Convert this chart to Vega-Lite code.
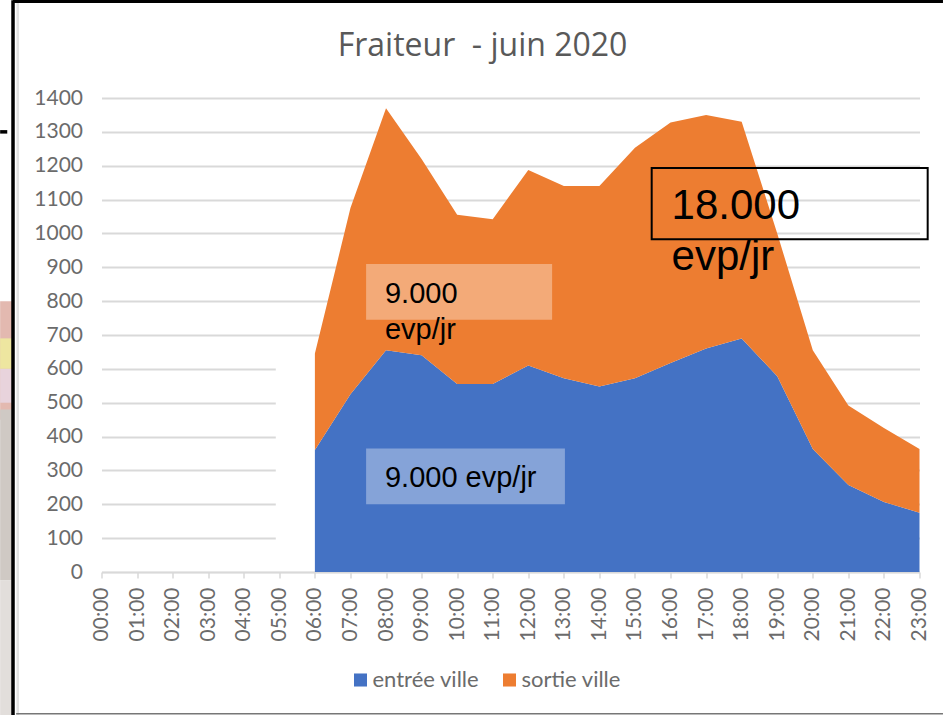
{
"$schema":"https://vega.github.io/schema/vega-lite/v6.json",
"width":818,"height":474,
"autosize":{"type":"none"},
"padding":{"left":101.5,"top":98,"right":23.5,"bottom":143},
"background":"white",
"title":{"text":"Fraiteur\u00a0 - juin 2020","font":"Open Sans","fontSize":32,"fontWeight":"normal","color":"#595959","anchor":"middle","dx":-28,"offset":-65},
"config":{"view":{"stroke":null}},
"layer":[
{"data":{"values":[{"x0":4.9,"x1":6.04,"y0":4,"y1":650}]},
 "mark":{"type":"rect","color":"white"},
 "encoding":{"x":{"field":"x0","type":"quantitative"},"x2":{"field":"x1"},"y":{"field":"y0","type":"quantitative"},"y2":{"field":"y1"}}},
{"data":{"values":[
 {"h":6,"s":"entrée ville","o":1,"v":360},{"h":7,"s":"entrée ville","o":1,"v":525},{"h":8,"s":"entrée ville","o":1,"v":655},{"h":9,"s":"entrée ville","o":1,"v":640},{"h":10,"s":"entrée ville","o":1,"v":555},{"h":11,"s":"entrée ville","o":1,"v":555},{"h":12,"s":"entrée ville","o":1,"v":610},{"h":13,"s":"entrée ville","o":1,"v":572},{"h":14,"s":"entrée ville","o":1,"v":548},{"h":15,"s":"entrée ville","o":1,"v":572},{"h":16,"s":"entrée ville","o":1,"v":617},{"h":17,"s":"entrée ville","o":1,"v":660},{"h":18,"s":"entrée ville","o":1,"v":690},{"h":19,"s":"entrée ville","o":1,"v":578},{"h":20,"s":"entrée ville","o":1,"v":363},{"h":21,"s":"entrée ville","o":1,"v":257},{"h":22,"s":"entrée ville","o":1,"v":207},{"h":23,"s":"entrée ville","o":1,"v":175},
 {"h":6,"s":"sortie ville","o":2,"v":285},{"h":7,"s":"sortie ville","o":2,"v":550},{"h":8,"s":"sortie ville","o":2,"v":715},{"h":9,"s":"sortie ville","o":2,"v":580},{"h":10,"s":"sortie ville","o":2,"v":500},{"h":11,"s":"sortie ville","o":2,"v":487},{"h":12,"s":"sortie ville","o":2,"v":577},{"h":13,"s":"sortie ville","o":2,"v":568},{"h":14,"s":"sortie ville","o":2,"v":592},{"h":15,"s":"sortie ville","o":2,"v":681},{"h":16,"s":"sortie ville","o":2,"v":711},{"h":17,"s":"sortie ville","o":2,"v":690},{"h":18,"s":"sortie ville","o":2,"v":640},{"h":19,"s":"sortie ville","o":2,"v":422},{"h":20,"s":"sortie ville","o":2,"v":292},{"h":21,"s":"sortie ville","o":2,"v":235},{"h":22,"s":"sortie ville","o":2,"v":218},{"h":23,"s":"sortie ville","o":2,"v":188}
 ]},
 "mark":{"type":"area","clip":false},
 "encoding":{
  "x":{"field":"h","type":"quantitative","scale":{"domain":[0,23],"nice":false,"zero":false},
   "axis":{"tickCount":23,"labelExpr":"(datum.value<10?'0':'')+datum.value+':00'","labelAngle":-90,"labelAlign":"right","labelBaseline":"middle","labelFont":"Lato","labelFontSize":21,"labelColor":"#6b6b6b","labelPadding":9,"labelOverlap":false,"labelBound":false,"labelFlush":false,"title":null,"grid":false,"domainColor":"#d9d9d9","domainWidth":1.5,"tickColor":"#d9d9d9","tickSize":6,"tickWidth":1.5}},
  "y":{"aggregate":"sum","field":"v","type":"quantitative","stack":"zero","scale":{"domain":[0,1400],"nice":false},
   "axis":{"tickCount":14,"labelExpr":"''+datum.value","labelFont":"Lato","labelFontSize":21,"labelColor":"#6b6b6b","labelPadding":19,"title":null,"grid":true,"gridColor":"#d9d9d9","gridWidth":2,"domain":false,"ticks":false,"labelOverlap":false}},
  "color":{"field":"s","type":"nominal","scale":{"domain":["entrée ville","sortie ville"],"range":["#4472c4","#ed7d31"]},
   "legend":{"title":null,"orient":"none","legendX":248,"legendY":571,"direction":"horizontal","symbolType":"square","symbolSize":170,"symbolStrokeWidth":0,"symbolOpacity":1,"labelFont":"Lato","labelFontSize":22,"labelColor":"#6b6b6b","columnPadding":19,"labelOffset":1}},
  "order":{"field":"o","type":"quantitative","sort":"ascending"}
 }},
{"data":{"values":[
 {"x0":-2.85,"x1":-2.5,"y0":450,"y1":800,"c":"#e3b9b0"},
 {"x0":-2.85,"x1":-2.5,"y0":600,"y1":690,"c":"#eee6a0"},
 {"x0":-2.85,"x1":-2.5,"y0":500,"y1":600,"c":"#e8d3dc"},
 {"x0":-2.85,"x1":-2.5,"y0":-25,"y1":480,"c":"#cfc9c4"},
 {"x0":-2.85,"x1":-2.5,"y0":-423,"y1":-25,"c":"#e2dedb"}
 ]},
 "mark":{"type":"rect","clip":false},
 "encoding":{"x":{"field":"x0","type":"quantitative"},"x2":{"field":"x1"},"y":{"field":"y0","type":"quantitative"},"y2":{"field":"y1"},"fill":{"field":"c","type":"nominal","scale":null,"legend":null}}},
{"data":{"values":[{"x0":-2.39,"x1":-2.32,"y0":-423,"y1":1689}]},
 "mark":{"type":"rect","color":"#e2e2e2","clip":false},
 "encoding":{"x":{"field":"x0","type":"quantitative"},"x2":{"field":"x1"},"y":{"field":"y0","type":"quantitative"},"y2":{"field":"y1"}}},
{"data":{"values":[{"x0":7.44,"x1":12.67,"y0":745,"y1":910},{"x0":7.44,"x1":13.03,"y0":200,"y1":365}]},
 "mark":{"type":"rect","color":"white","opacity":0.35},
 "encoding":{"x":{"field":"x0","type":"quantitative"},"x2":{"field":"x1"},"y":{"field":"y0","type":"quantitative"},"y2":{"field":"y1"}}},
{"data":{"values":[{"x0":15.47,"x1":23.23,"y0":983,"y1":1193}]},
 "mark":{"type":"rect","fillOpacity":0,"stroke":"black","strokeWidth":2,"clip":false},
 "encoding":{"x":{"field":"x0","type":"quantitative"},"x2":{"field":"x1"},"y":{"field":"y0","type":"quantitative"},"y2":{"field":"y1"}}},
{"data":{"values":[{"x":-2.488,"y0":-423,"y1":1689},{"x":-2.85,"x2":-2.65,"y0":1300,"y1":1300},{"x":-2.488,"x2":23.66,"y0":1686,"y1":1686}]},
 "mark":{"type":"rule","color":"black","strokeWidth":3.5,"clip":false},
 "encoding":{"x":{"field":"x","type":"quantitative"},"x2":{"field":"x2"},"y":{"field":"y0","type":"quantitative"},"y2":{"field":"y1"}}},
{"data":{"values":[{"x":-2.4,"x2":23.66,"y":-419}]},
 "mark":{"type":"rule","color":"#777777","strokeWidth":1.5,"clip":false},
 "encoding":{"x":{"field":"x","type":"quantitative"},"x2":{"field":"x2"},"y":{"field":"y","type":"quantitative"}}},
{"data":{"values":[
 {"x":7.97,"y":820,"t":"9.000","z":29},{"x":7.97,"y":715,"t":"evp/jr","z":29},{"x":7.97,"y":278,"t":"9.000 evp/jr","z":29},
 {"x":16.03,"y":1080,"t":"18.000","z":42},{"x":16.03,"y":930,"t":"evp/jr","z":42}]},
 "mark":{"type":"text","align":"left","baseline":"middle","font":"Liberation Sans","color":"black","clip":false},
 "encoding":{"x":{"field":"x","type":"quantitative"},"y":{"field":"y","type":"quantitative"},"text":{"field":"t"},"size":{"field":"z","type":"quantitative","scale":null,"legend":null}}}
]
}
